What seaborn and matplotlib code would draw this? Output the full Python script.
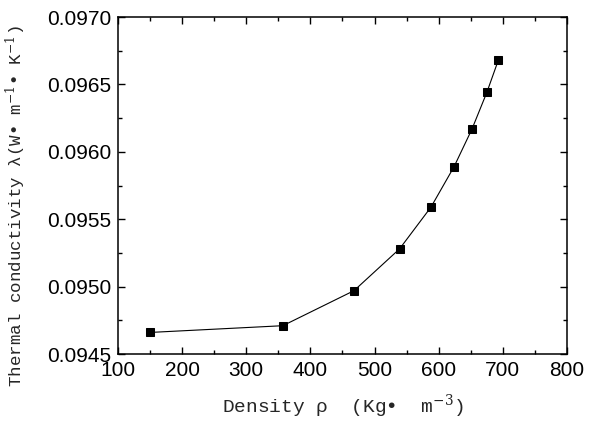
import matplotlib
matplotlib.use("Agg")
import matplotlib.pyplot as plt
import seaborn as sns
import pandas as pd
from matplotlib.ticker import MultipleLocator, FormatStrFormatter

# data
density = [150, 357, 468, 539, 588, 624, 652, 675, 693]
conductivity = [0.09466, 0.09471, 0.09497, 0.09528, 0.09559,
                0.09589, 0.09617, 0.09644, 0.09668]

df = pd.DataFrame({"density": density, "conductivity": conductivity})

sns.set_style("ticks")
plt.rcParams["font.family"] = ["Liberation Sans", "DejaVu Sans"]
plt.rcParams["mathtext.fontset"] = "dejavuserif"

fig = plt.figure(figsize=(5.97, 4.23), dpi=100)
ax = fig.add_axes([0.1977, 0.1631, 0.752, 0.7967])

sns.lineplot(data=df, x="density", y="conductivity", ax=ax, color="black",
             linewidth=0.8, marker="s", markersize=5.5, markeredgecolor="black",
             markerfacecolor="black")

ax.set_xlim(100, 800)
ax.set_ylim(0.0945, 0.0970)
ax.xaxis.set_major_locator(MultipleLocator(100))
ax.xaxis.set_minor_locator(MultipleLocator(50))
ax.yaxis.set_major_locator(MultipleLocator(0.0005))
ax.yaxis.set_minor_locator(MultipleLocator(0.00025))
ax.yaxis.set_major_formatter(FormatStrFormatter("%.4f"))

ax.tick_params(which="both", direction="in", top=True, right=True,
               labelsize=15, width=1, colors="black")
ax.tick_params(which="major", length=5)
ax.tick_params(which="minor", length=3)
ax.tick_params(axis="x", pad=5)
ax.tick_params(axis="y", pad=5)
for s in ax.spines.values():
    s.set_linewidth(1.1)
    s.set_color("black")

mono = ["Liberation Mono", "DejaVu Sans Mono"]
ax.set_xlabel(r"Density ρ  (Kg•  m$^{-3}$)", family=mono, fontsize=14, labelpad=9)
ax.set_ylabel(r"Thermal conductivity λ(W• m$^{-1}$• K$^{-1}$)", family=mono,
              fontsize=12.6)
ax.yaxis.set_label_coords(-0.2, 0.44)

fig.savefig("out.png", dpi=100)
